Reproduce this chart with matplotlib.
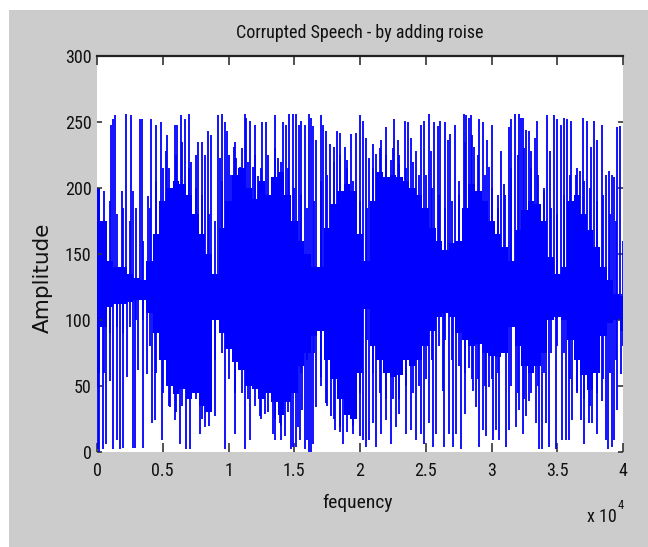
import numpy as np
import matplotlib.pyplot as plt
from matplotlib import font_manager
from matplotlib.font_manager import FontProperties
from matplotlib.patches import Rectangle

# the reference text is tall and narrow: use a condensed sans when one exists
names = {f.name for f in font_manager.fontManager.ttflist}
narrow_family = 'Liberation Sans'
for cand in ['Roboto Condensed', 'Archivo Narrow', 'PT Sans Narrow', 'Liberation Sans Narrow']:
    if cand in names:
        narrow_family = cand
        break


def nfont(size):
    return FontProperties(family=[narrow_family, 'DejaVu Sans'], size=size)


# solid centre band of the waveform, one lo/hi pair every 500 samples
core_x = np.arange(0, 40001, 500)
core_lo = [60, 95, 110, 112, 112, 114, 115, 115, 105, 90, 70, 50, 44, 48, 40, 45,
           35, 30, 100, 90, 78, 68, 62, 50, 48, 40, 45, 38, 28, 38, 45, 65,
           75, 88, 92, 70, 55, 40, 28, 25, 60, 108, 80, 70, 60, 57, 58, 70,
           65, 70, 80, 92, 102, 105, 102, 90, 85, 80, 82, 75, 73, 72, 75, 95,
           80, 65, 60, 65, 75, 100, 102, 100, 85, 70, 58, 47, 60, 88, 98, 100, 92]
core_hi = [200, 175, 145, 140, 140, 135, 132, 130, 145, 165, 190, 200, 205, 203, 195, 180,
           165, 150, 135, 170, 190, 210, 215, 200, 192, 205, 195, 208, 212, 195, 175, 160,
           150, 140, 140, 170, 188, 198, 203, 198, 165, 145, 190, 212, 208, 210, 208, 205,
           200, 195, 185, 170, 160, 153, 158, 160, 185, 203, 198, 190, 175, 165, 155, 145,
           168, 183, 190, 188, 175, 148, 135, 140, 190, 195, 180, 168, 155, 140, 130, 120, 118]

# looser striped zone around the band (same 500-sample grid)
fuzz_hi = [200, 198, 190, 180, 185, 175, 185, 160, 185, 205, 215, 215, 225, 235, 215, 200,
           195, 180, 175, 205, 225, 235, 230, 220, 225, 215, 225, 230, 220, 215, 200, 195,
           185, 190, 205, 210, 220, 225, 215, 205, 190, 185, 215, 230, 225, 230, 225, 215,
           220, 210, 210, 200, 195, 185, 190, 205, 235, 240, 225, 210, 200, 185, 195, 215,
           225, 230, 215, 210, 200, 185, 180, 195, 210, 215, 205, 200, 190, 195, 180, 175, 160]
fuzz_lo = [50, 60, 90, 95, 90, 95, 100, 100, 80, 60, 45, 35, 30, 35, 45, 40,
           25, 20, 70, 75, 55, 45, 45, 40, 35, 25, 30, 25, 20, 30, 50, 60,
           70, 75, 50, 35, 25, 15, 15, 20, 45, 85, 60, 45, 40, 40, 40, 50,
           45, 50, 55, 70, 80, 85, 70, 65, 60, 55, 55, 50, 55, 60, 75, 50,
           45, 40, 45, 50, 60, 75, 80, 75, 55, 45, 40, 35, 45, 55, 60, 70, 80]

# isolated samples shooting up towards 255
top_x = [1038, 1240, 1366, 1872, 2201, 2580, 2757, 3264, 3441, 3896, 4099, 4478, 4858, 5237,
         5338, 5920, 6097, 6350, 6680, 7008, 7185, 7514, 7691, 8020, 8197, 8450, 8653, 9210,
         9337, 9539, 9716, 9918, 10222, 10399, 10601, 10854, 11234, 11360, 11613, 11866, 11993,
         12246, 12575, 12879, 13510, 13764, 14143, 14345, 14598, 14902, 15155, 15357, 15535,
         15787, 16116, 16293, 16420, 16673, 17052, 17179, 17432, 17685, 18014, 18242, 18444,
         18824, 19001, 19330, 19709, 19962, 20215, 20468, 20721, 20974, 21227, 21607, 21986,
         22366, 22619, 22872, 22998, 23453, 23631, 23884, 24263, 24643, 24896, 25224, 25402,
         25655, 25908, 26085, 26489, 26667, 26844, 27248, 27552, 27881, 28058, 28260, 28438,
         28690, 29070, 29323, 29627, 29829, 30031, 30461, 30714, 30968, 31296, 31474, 31803,
         32055, 32233, 32410, 32612, 32815, 32992, 33320, 33498, 34004, 34257, 34434, 34763,
         35016, 35269, 35522, 35775, 36028, 36407, 36711, 36964, 37293, 37596, 37799, 38052,
         38431, 38684, 38937, 39139, 39316, 39570, 39747]
top_val = [248, 252, 255, 198, 256, 255, 198, 252, 252, 194, 252, 248, 250, 228,
           240, 248, 248, 255, 252, 256, 220, 225, 235, 235, 225, 243, 240, 255,
           223, 256, 250, 243, 210, 231, 223, 216, 256, 253, 251, 216, 248,
           209, 250, 250, 255, 223, 250, 248, 256, 256, 256, 248, 251,
           248, 256, 253, 247, 236, 255, 248, 243, 233, 231, 243, 242,
           231, 221, 241, 242, 255, 251, 238, 223, 233, 226, 236, 246,
           221, 252, 236, 218, 251, 250, 238, 228, 248, 251, 256, 228,
           250, 247, 251, 250, 236, 241, 248, 195, 256, 255, 253, 255,
           231, 252, 250, 236, 216, 248, 195, 228, 203, 246, 252, 256,
           256, 253, 253, 244, 243, 228, 238, 251, 198, 255, 228, 255,
           252, 248, 253, 252, 251, 210, 213, 253, 251, 231, 251, 236,
           248, 210, 213, 210, 208, 246, 247]

# isolated samples dropping towards 0
bot_x = [60, 177, 430, 683, 987, 1240, 1493, 1746, 1948, 2302, 2707, 2884, 3137, 3517, 3820,
         4150, 4403, 4909, 5540, 5920, 6300, 6756, 7059, 7818, 8197, 8956, 9716, 10475, 11234,
         11613, 12372, 12751, 13384, 13510, 13890, 14017, 14270, 14523, 14776, 14902, 15104,
         15282, 15408, 15610, 15787, 15965, 16116, 16293, 16420, 16622, 17052, 17432, 17812,
         18064, 18444, 18697, 18899, 19456, 19962, 20215, 20468, 20721, 20974, 21227, 21607,
         21986, 22366, 22745, 22998, 23504, 23884, 24263, 24643, 24896, 25275, 25579, 25781,
         26287, 26414, 26793, 27097, 27299, 27679, 28007, 28260, 28564, 28817, 29019, 29323,
         29576, 29829, 30082, 30335, 30588, 31094, 31347, 31853, 32106, 32359, 32612, 32865,
         33371, 33624, 33877, 34130, 34383, 34889, 35344, 35648, 35901, 36154, 36534, 36786,
         37040, 37419, 37672, 38052, 38431, 38684, 38886, 39139, 39316, 39570, 39823]
bot_val = [2, 0, 2, 6, 54, 2, 9, 2, 3, 57, 3, 3, 62, 3, 59,
           22, 24, 9, 34, 24, 6, 2, 2, 14, 19, 27, 2, 14, 2,
           9, 27, 29, 14, 9, 22, 9, 12, 41, 2, 4, 4,
           19, 9, 32, 2, 9, 0, 0, 6, 34, 57, 37, 27,
           17, 19, 6, 32, 14, 12, 9, 4, 9, 22, 4, 14,
           24, 6, 19, 29, 14, 17, 9, 14, 6, 22, 4, 14,
           46, 4, 14, 4, 14, 2, 29, 64, 46, 34, 4, 17,
           12, 49, 9, 17, 9, 4, 17, 19, 32, 14, 27, 39,
           22, 2, 2, 22, 4, 2, 9, 9, 9, 24, 46, 24,
           6, 22, 22, 14, 39, 9, 2, 4, 9, 32, 59]

xticks = [0, 5000, 10000, 15000, 20000, 25000, 30000, 35000, 40000]
xtick_labels = ['0', '0.5', '1', '1.5', '2', '2.5', '3', '3.5', '4']
yticks = [0, 50, 100, 150, 200, 250, 300]

fig = plt.figure(figsize=(6.48, 5.47), dpi=100, facecolor='white')
fig.patches.append(Rectangle((9 / 648, 0), 1, 1 - 10 / 547, transform=fig.transFigure,
                             facecolor='#cccccc', edgecolor='none', zorder=-1))
ax = fig.add_axes([97 / 648, 95 / 547, 526 / 648, 396 / 547])
ax.set_facecolor('white')

blue = '#0000ff'
ax.fill_between(core_x, core_lo, core_hi, step='mid', color=blue, linewidth=0)
ax.vlines(core_x, 120, fuzz_hi, color=blue, linewidth=1.3)
ax.vlines(core_x, 120, fuzz_lo, color=blue, linewidth=1.3)
ax.vlines(top_x, 120, top_val, color=blue, linewidth=1.3)
ax.vlines(bot_x, 120, bot_val, color=blue, linewidth=1.3)

ax.set_xlim(0, 40000)
ax.set_ylim(0, 300)
ax.set_xticks(xticks)
ax.set_xticklabels(xtick_labels)
ax.set_yticks(yticks)

for side in ['left', 'right', 'bottom']:
    ax.spines[side].set_visible(False)
ax.spines['top'].set_color('#222222')
ax.spines['top'].set_linewidth(1.6)

ax.tick_params(axis='x', direction='in', length=6.5, width=1.2, color='#333333',
               top=True, pad=7)
ax.tick_params(axis='y', direction='in', length=3.5, width=1.2, color='#333333',
               right=True, pad=4)
for lab in ax.get_xticklabels() + ax.get_yticklabels():
    lab.set_fontproperties(nfont(13))
    lab.set_color('#111111')

ax.set_title('Corrupted Speech - by adding roise', fontproperties=nfont(13), pad=13,
             color='#111111')
ax.set_xlabel('fequency', fontproperties=nfont(14), color='#111111')
ax.xaxis.set_label_coords(0.496, -0.106)
ax.xaxis.label.set_va('top')
ax.set_ylabel('Amplitude', fontsize=15.5, color='#111111', family='DejaVu Sans')
ax.yaxis.label.set_va('center')
ax.yaxis.set_label_coords(-0.103, 0.44)

fig.text(617 / 648, 1 - 522 / 547, 'x 10', fontproperties=nfont(13), color='#111111',
         ha='right', va='baseline')
fig.text(618 / 648, 1 - 509 / 547, '4', fontproperties=nfont(9), color='#111111',
         ha='left', va='baseline')

fig.savefig('out.png', dpi=100, facecolor=fig.get_facecolor())
